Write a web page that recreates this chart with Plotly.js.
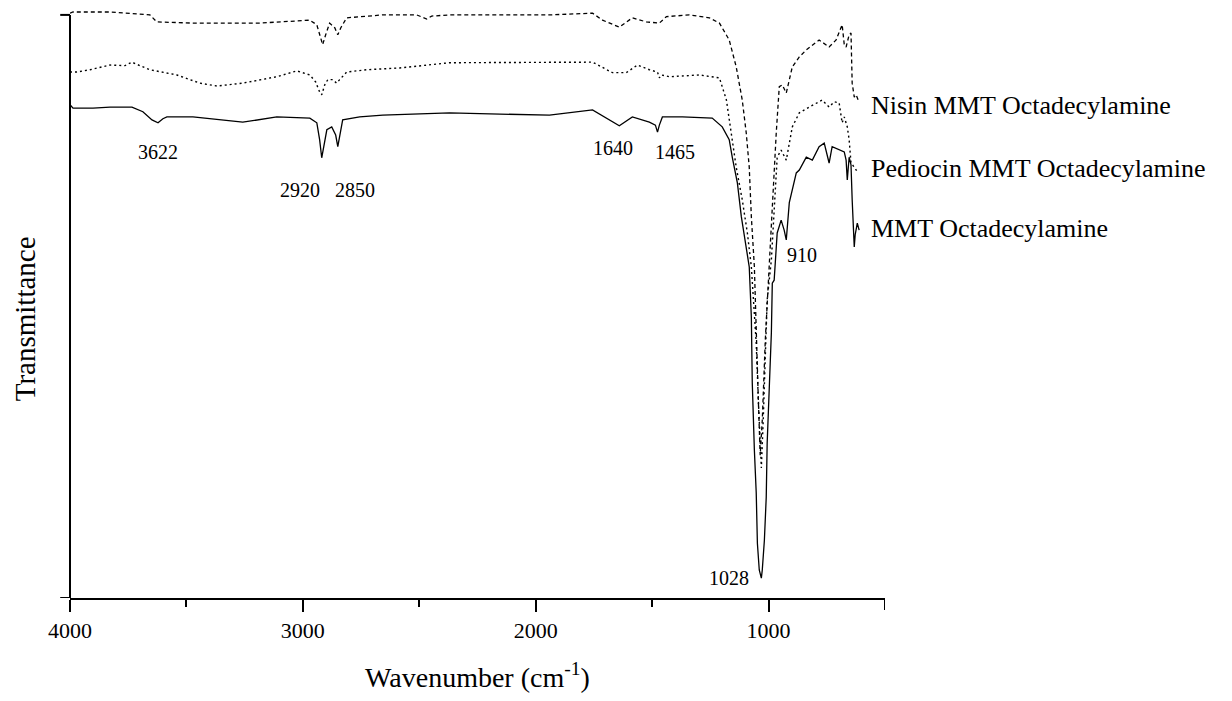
<!DOCTYPE html>
<html>
<head>
<meta charset="utf-8">
<script src="https://cdn.plot.ly/plotly-3.0.1.min.js"></script>
<style>html,body{margin:0;padding:0;background:#fff;}#chart{width:1232px;height:701px;}</style>
</head>
<body>
<div id="chart"></div>
<script>
// Wavenumber (cm-1) and transmittance (arbitrary units, curves offset as in the figure)
const wnMMT = [4000,3987,3901,3828,3734,3687,3648,3622,3601,3584,3472,3258,3112,2970,2940,2928,2919,2910,2897,2876,2859,2850,2842,2829,2756,2657,2370,1941,1756,1705,1641,1585,1512,1486,1477,1469,1456,1370,1242,1199,1169,1156,1134,1117,1096,1083,1074,1070,1061,1053,1048,1040,1031,1027,1018,1010,1006,997,988,984,976,963,946,933,924,911,881,868,838,812,783,761,740,727,697,675,667,662,654,646,641,632,628,619,611];
const tMMT = [84.6,84.0,84.0,84.2,84.2,83.4,82.0,81.5,82.2,82.5,82.5,81.6,82.5,82.3,81.5,78.6,75.5,77.7,80.3,80.8,79.4,77.4,79.4,82.0,82.5,82.8,83.2,82.8,83.7,82.5,81.0,82.5,81.6,81.1,79.9,81.1,82.5,82.5,82.3,80.8,78.6,75.6,71.2,65.4,59.7,56.8,48.2,36.9,25.4,18.0,9.4,4.8,3.4,4.8,9.9,17.3,26.6,36.9,45.5,54.0,54.5,62.6,64.8,63.1,61.4,67.8,72.9,73.4,75.6,75.1,77.4,78.0,74.6,77.4,76.8,76.5,75.1,71.7,75.6,74.3,68.3,60.2,62.3,64.3,63.1];

const wnNisin = [4000,3987,3828,3773,3657,3627,3472,3185,3013,2970,2940,2928,2915,2902,2885,2863,2850,2837,2812,2657,2511,2468,2447,2370,1941,1756,1713,1641,1585,1525,1469,1439,1340,1254,1211,1169,1139,1113,1096,1083,1074,1061,1053,1044,1036,1027,1014,997,984,967,954,941,924,911,898,868,838,783,740,710,684,675,667,654,646,641,632,624,615];
const tNisin = [100.3,100.5,100.5,100.3,100.0,98.8,98.6,98.6,99.1,99.1,98.3,96.6,94.9,96.6,98.6,97.8,96.6,97.8,99.5,100.0,100.0,99.3,99.8,100.0,100.0,100.3,99.1,97.9,99.5,98.8,98.6,99.7,100.0,99.5,98.6,95.7,91.1,85.4,79.8,73.9,65.4,56.8,47.7,34.0,24.5,30.5,44.3,56.8,68.3,79.8,87.7,88.0,86.6,88.9,91.1,92.8,94.0,95.7,94.5,95.7,98.3,94.9,94.5,96.6,96.9,88.3,85.9,86.3,85.4];

const wnPed = [4000,3970,3914,3828,3764,3734,3700,3657,3541,3442,3369,3258,3112,3026,2970,2945,2928,2919,2906,2893,2872,2855,2842,2812,2726,2584,2370,1941,1756,1671,1611,1563,1533,1512,1477,1469,1460,1426,1297,1211,1181,1160,1139,1113,1091,1074,1061,1053,1044,1031,1023,1014,1006,988,976,963,946,924,898,868,825,770,740,718,697,684,675,662,654,646,632,619];
const tPed = [90.2,90.2,90.6,91.4,91.3,91.9,91.3,90.6,89.7,88.3,87.8,88.3,89.4,90.4,89.7,88.5,86.8,86.3,88.0,88.9,88.9,88.3,88.9,90.2,90.6,90.9,91.8,91.8,91.9,90.1,90.1,91.4,90.9,90.6,90.2,89.2,89.7,89.4,89.7,89.2,85.4,79.8,73.9,68.3,62.6,56.8,48.2,43.7,34.0,22.3,30.5,42.5,51.1,58.0,67.1,75.6,76.8,75.1,80.8,83.2,84.2,85.4,84.2,85.1,84.9,81.5,82.5,80.8,78.6,74.6,73.9,73.1];

const xTickVals = [4000,3000,2000,1000];
const xTickText = ['4000','3000','2000','1000'];
const xMinorVals = [3500,2500,1500];
const xEndTick = 500;

const peakLabels = ['3622','2920','2850','1640','1465','910','1028'];
const peakX = [3622,3013,2777,1666,1400,855,1169];
const peakY = [76.5,70.0,70.0,77.2,76.5,58.8,3.4];

const seriesNames = ['Nisin MMT Octadecylamine','Pediocin MMT Octadecylamine','MMT Octadecylamine'];
const seriesLabelY = [84.5,73.7,63.4];

const serif = 'Liberation Serif';

const traces = [
  {x: wnNisin, y: tNisin, mode:'lines', name: seriesNames[0], line:{color:'#000', width:1.3, dash:'4px,3px'}},
  {x: wnPed, y: tPed, mode:'lines', name: seriesNames[1], line:{color:'#000', width:1.4, dash:'2px,3px'}},
  {x: wnMMT, y: tMMT, mode:'lines', name: seriesNames[2], line:{color:'#000', width:1.3}}
];

const annotations = [];
peakLabels.forEach((t,i)=>annotations.push({x:peakX[i], y:peakY[i], xref:'x', yref:'y', text:t, showarrow:false, font:{family:serif, size:20, color:'#000'}}));
seriesNames.forEach((t,i)=>annotations.push({x:568, y:seriesLabelY[i], xref:'x', yref:'y', xanchor:'left', text:t, showarrow:false, font:{family:serif, size:26, color:'#000'}}));
annotations.push({x:-0.0552, y:0.47, xref:'paper', yref:'paper', xanchor:'center', yanchor:'middle', text:'Transmittance', textangle:-90, showarrow:false, font:{family:serif, size:29, color:'#000'}});

const layout = {
  width:1232, height:701,
  margin:{l:70, r:347, t:5, b:103},
  paper_bgcolor:'#fff', plot_bgcolor:'#fff',
  showlegend:false,
  font:{family:serif, color:'#000'},
  xaxis:{
    range:[4000,500], showgrid:false, zeroline:false,
    showline:true, linecolor:'#000', linewidth:2,
    ticks:'outside', tickvals:xTickVals, ticktext:xTickText,
    ticklen:12, tickwidth:2, tickcolor:'#000',
    tickfont:{family:serif, size:22, color:'#000'},
    minor:{tickvals:xMinorVals, ticks:'outside', ticklen:7, tickwidth:2, tickcolor:'#000', showgrid:false},
    title:{text:'Wavenumber (cm<sup>-1</sup>)', font:{family:serif, size:28, color:'#000'}, standoff:25}
  },
  yaxis:{
    range:[0,101.7], showgrid:false, zeroline:false, showline:false,
    showticklabels:false, ticks:''
  },
  shapes:[
    {type:'line', xref:'paper', yref:'y', x0:0, x1:0, y0:0, y1:100, line:{color:'#000', width:2}},
    {type:'line', xref:'paper', yref:'y', x0:-0.012, x1:0, y0:100, y1:100, line:{color:'#000', width:2}},
    {type:'line', xref:'paper', yref:'y', x0:-0.012, x1:0, y0:0, y1:0, line:{color:'#000', width:2}},
    {type:'line', xref:'x', yref:'paper', x0:xEndTick, x1:xEndTick, y0:0, y1:-0.0202, line:{color:'#000', width:2}}
  ],
  annotations:annotations
};

Plotly.newPlot('chart', traces, layout, {staticPlot:true, displayModeBar:false});
</script>
</body>
</html>
